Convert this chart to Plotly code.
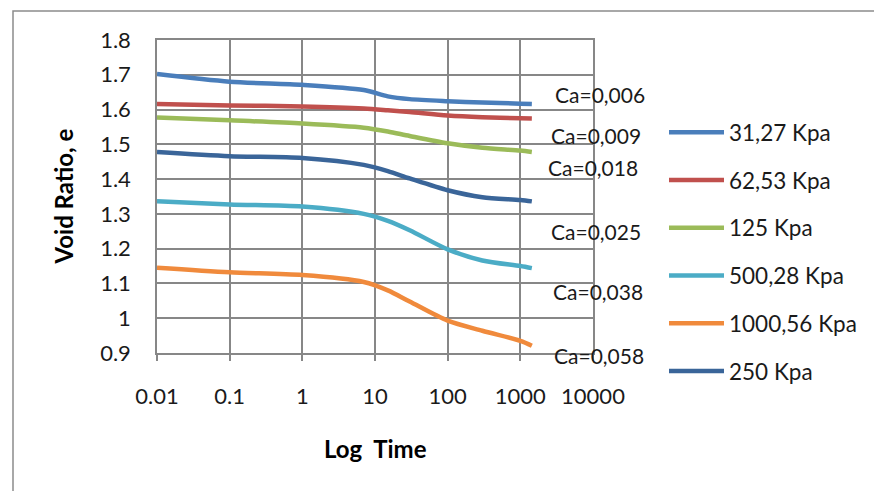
import plotly.graph_objects as go

# ---- data ----
time_min = [0.01, 0.1, 1, 7, 15, 30, 100, 300, 1000, 1440]

series_names = ["31,27 Kpa", "62,53 Kpa", "125 Kpa", "500,28 Kpa", "1000,56 Kpa", "250 Kpa"]
e_31 = [1.702, 1.680, 1.671, 1.656, 1.638, 1.630, 1.624, 1.620, 1.617, 1.616]
e_62 = [1.616, 1.612, 1.609, 1.603, 1.598, 1.593, 1.583, 1.578, 1.575, 1.574]
e_125 = [1.577, 1.569, 1.560, 1.548, 1.537, 1.524, 1.503, 1.490, 1.482, 1.478]
e_500 = [1.336, 1.327, 1.321, 1.300, 1.280, 1.253, 1.198, 1.166, 1.150, 1.144]
e_1000 = [1.145, 1.132, 1.124, 1.104, 1.080, 1.048, 0.993, 0.964, 0.935, 0.921]
e_250 = [1.478, 1.466, 1.461, 1.441, 1.423, 1.402, 1.368, 1.348, 1.340, 1.336]
series_values = [e_31, e_62, e_125, e_500, e_1000, e_250]
colors = ["#4A7EBB", "#C0504D", "#9BBB59", "#4BACC6", "#F08A3C", "#3A6599"]

ca_labels = ["Ca=0,006", "Ca=0,009", "Ca=0,018", "Ca=0,025", "Ca=0,038", "Ca=0,058"]

x_ticks = [0.01, 0.1, 1, 10, 100, 1000, 10000]
x_ticktext = ["0.01", "0.1", "1", "10", "100", "1000", "10000"]
y_ticks = [0.9, 1.0, 1.1, 1.2, 1.3, 1.4, 1.5, 1.6, 1.7, 1.8]
y_ticktext = ["0.9", "1", "1.1", "1.2", "1.3", "1.4", "1.5", "1.6", "1.7", "1.8"]

W, H = 874, 491
L, R, T, B = 157, 281, 40, 138

FONT = "Lato, 'Open Sans', sans-serif"
fig = go.Figure()
for i, (name, vals) in enumerate(zip(series_names, series_values)):
    fig.add_trace(go.Scatter(
        x=time_min, y=vals, mode="lines", name=name,
        line=dict(color=colors[i], width=4.5, shape="spline", smoothing=0.8),
        legendgroup=f"g{i}",
    ))

# Ca annotations (paper coords from pixel positions)
ca_pix = [(553, 94), (549, 135), (546, 167), (549, 231), (551, 291), (552, 355)]
annotations = []
for txt, (px, py) in zip(ca_labels, ca_pix):
    annotations.append(dict(
        text=txt, xref="paper", yref="paper",
        x=(px - L) / (W - L - R), y=1 - (py - T) / (H - T - B),
        xanchor="left", yanchor="middle", showarrow=False,
        font=dict(family=FONT, size=21, color="#1a1a1a"),
    ))
annotations.append(dict(
    text="<b>Void Ratio, e</b>", xref="paper", yref="paper",
    x=(63 - L) / (W - L - R), y=0.5, textangle=-90, showarrow=False,
    xanchor="center", yanchor="middle",
    font=dict(family=FONT, size=24, color="#000000"),
))
annotations.append(dict(
    text="<b>Log  Time</b>", xref="paper", yref="paper",
    x=0.5, y=1 - (448 - T) / (H - T - B), showarrow=False,
    xanchor="center", yanchor="middle",
    font=dict(family=FONT, size=24, color="#000000"),
))

fig.update_layout(
    width=W, height=H,
    margin=dict(l=L, r=R, t=T, b=B, autoexpand=False),
    paper_bgcolor="white", plot_bgcolor="white",
    font=dict(family=FONT, size=22, color="#1a1a1a"),
    showlegend=True,
    legend=dict(
        x=(664 - L) / (W - L - R), y=1 - (111 - T) / (H - T - B),
        xanchor="left", yanchor="top",
        font=dict(family=FONT, size=22.5, color="#1a1a1a"),
        tracegroupgap=15.5, itemwidth=55,
        bgcolor="rgba(0,0,0,0)",
    ),
    annotations=annotations,
    shapes=[dict(type="rect", xref="paper", yref="paper",
                 x0=(13 - L) / (W - L - R), x1=(900 - L) / (W - L - R),
                 y0=1 - (520 - T) / (H - T - B), y1=1 - (11 - T) / (H - T - B),
                 line=dict(color="#8c8c8c", width=1.5), layer="below")],
)
fig.update_xaxes(
    type="log", range=[-2, 4], tickvals=x_ticks, ticktext=x_ticktext,
    showgrid=True, gridcolor="#878787", gridwidth=1.5,
    showline=True, linecolor="#878787", linewidth=1.5, mirror=True,
    ticks="outside", ticklen=6, tickcolor="#878787", tickwidth=1.5,
    ticklabelstandoff=17, zeroline=False,
)
fig.update_yaxes(
    range=[0.9, 1.8], tickvals=y_ticks, ticktext=y_ticktext,
    showgrid=True, gridcolor="#878787", gridwidth=1.5,
    showline=True, linecolor="#878787", linewidth=1.5, mirror=True,
    ticks="", ticklabelstandoff=20, zeroline=False,
)

fig.write_html("out.html")
